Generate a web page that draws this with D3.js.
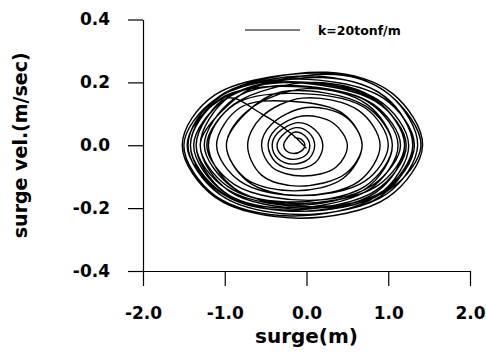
<!DOCTYPE html>
<html>
<head>
<meta charset="utf-8">
<script src="https://cdn.jsdelivr.net/npm/d3@7"></script>
<style>
  body { margin: 0; background: #fff; }
  text { font-family: "DejaVu Sans", sans-serif; font-weight: bold; fill: #000; }
</style>
</head>
<body>
<div id="chart"></div>
<script>
// tick values
var xTicks = [-2, -1, 0, 1, 2];
var yTicks = [-0.4, -0.2, 0.0, 0.2, 0.4];
var seriesName = 'k=20tonf/m';

// phase trajectory (surge in m, velocity in m/sec)
var surge = [
  -0.15, -0.06, -0.02, -0.06, -0.16, -0.245, -0.28, -0.245,
  -0.14, -0.02, 0.04, -0.01, -0.17, -0.31, -0.36, -0.30,
  -0.13, 0.03, 0.10, 0.03, -0.17, -0.35, -0.42, -0.35,
  -0.10, 0.10, 0.20, 0.11, -0.15, -0.38, -0.47, -0.38,
  -0.05, 0.33, 0.50, 0.36, -0.05, -0.42, -0.55, -0.43,
  0.00, 0.48, 0.68, 0.48, -0.10, -0.55, -0.72, -0.55,
  -0.05, 0.64, 0.90, 0.64, -0.10, -0.72, -0.98, -0.72,
  0.00, 0.74, 1.05, 0.74, -0.15, -0.89, -1.20, -0.89,
  0.10, 0.85, 1.20, 0.85, -0.20, -1.00, -1.35, -1.00,
  0.20, 0.95, 1.30, 0.92, -0.15, -1.07, -1.45, -1.07,
  0.25, 1.05, 1.42, 1.00, -0.10, -1.12, -1.52, -1.12,
  0.30, 1.02, 1.36, 0.98, -0.05, -1.04, -1.42, -1.05,
  0.10, 0.96, 1.30, 0.94, 0.00, -0.95, -1.30, -0.94,
  -0.10, 0.86, 1.20, 0.86, -0.20, -0.90, -1.25, -0.90,
  -0.30, 0.77, 1.12, 0.77, -0.30, -1.03, -1.38, -1.03,
  -0.40, 0.87, 1.25, 0.87, -0.20, -1.12, -1.50, -1.12,
  -0.20, 0.94, 1.32, 0.94, -0.10, -1.04, -1.42, -1.04,
  0.00, 0.82, 1.15, 0.82, 0.10, -0.88, -1.22, -0.88,
  -0.20, 0.71, 1.00, 0.71, -0.10, -0.81, -1.10, -0.81,
  -0.20, 0.45, 0.68, 0.45, -0.15, -0.75, -0.98, -0.75,
  -0.30, 0.72, 1.05, 0.72, -0.25, -0.97, -1.30, -0.97,
  -0.50, 0.84, 1.22, 0.84, -0.35, -1.08, -1.46, -1.08,
  0.35, 1.02, 1.40, 1.02, 0.10, -0.97, -1.35, -0.97,
  -0.55, -0.20, 0.00
];
var vel = [
  0.025, 0.018, 0.000, -0.018, -0.026, -0.018, 0.000, 0.020,
  0.042, 0.030, 0.000, -0.032, -0.045, -0.030, 0.000, 0.030,
  0.056, 0.040, 0.000, -0.043, -0.060, -0.042, 0.000, 0.040,
  0.072, 0.050, 0.000, -0.055, -0.076, -0.053, 0.000, 0.050,
  0.093, 0.070, 0.000, -0.070, -0.098, -0.070, 0.000, 0.066,
  0.120, 0.090, 0.000, -0.090, -0.130, -0.095, 0.000, 0.090,
  0.150, 0.110, 0.000, -0.115, -0.160, -0.115, 0.000, 0.110,
  0.180, 0.130, 0.000, -0.135, -0.190, -0.135, 0.000, 0.130,
  0.200, 0.145, 0.000, -0.150, -0.210, -0.150, 0.000, 0.145,
  0.215, 0.155, 0.000, -0.160, -0.220, -0.155, 0.000, 0.155,
  0.232, 0.165, 0.000, -0.165, -0.232, -0.165, 0.000, 0.160,
  0.228, 0.160, 0.000, -0.155, -0.220, -0.160, 0.000, 0.155,
  0.220, 0.155, 0.000, -0.145, -0.200, -0.145, 0.000, 0.155,
  0.200, 0.140, 0.000, -0.130, -0.185, -0.135, 0.000, 0.145,
  0.190, 0.135, 0.000, -0.140, -0.200, -0.145, 0.000, 0.140,
  0.200, 0.145, 0.000, -0.160, -0.225, -0.160, 0.000, 0.145,
  0.210, 0.150, 0.000, -0.150, -0.210, -0.150, 0.000, 0.150,
  0.185, 0.130, 0.000, -0.125, -0.175, -0.125, 0.000, 0.130,
  0.165, 0.120, 0.000, -0.115, -0.160, -0.115, 0.000, 0.120,
  0.140, 0.100, 0.000, -0.105, -0.145, -0.105, 0.000, 0.100,
  0.170, 0.125, 0.000, -0.130, -0.180, -0.130, 0.000, 0.125,
  0.195, 0.140, 0.000, -0.145, -0.205, -0.145, 0.000, 0.140,
  0.225, 0.160, 0.000, -0.140, -0.195, -0.140, 0.000, 0.150,
  0.100, 0.040, -0.010
];

var width = 486, height = 353;

// axes cross at (-2.0, -0.4), no frame
var x = d3.scaleLinear().domain([-2, 2]).range([143, 470]);
var y = d3.scaleLinear().domain([-0.4, 0.4]).range([271, 19.5]);

var svg = d3.select('#chart').append('svg')
    .attr('width', width)
    .attr('height', height);

var fmt = function(d) { return d.toFixed(1); };

// x axis
var gx = svg.append('g')
    .attr('transform', 'translate(0,' + y(-0.4) + ')')
    .call(d3.axisBottom(x)
      .tickValues(xTicks)
      .tickFormat(fmt)
      .tickSizeInner(15)
      .tickSizeOuter(0)
      .tickPadding(21));

// y axis
var gy = svg.append('g')
    .attr('transform', 'translate(' + x(-2) + ',0)')
    .call(d3.axisLeft(y)
      .tickValues(yTicks)
      .tickFormat(fmt)
      .tickSizeInner(15)
      .tickSizeOuter(0)
      .tickPadding(18));

svg.selectAll('.domain, .tick line')
    .attr('stroke', '#000')
    .attr('stroke-width', 1.2);
svg.selectAll('.tick text')
    .attr('font-family', '"DejaVu Sans", sans-serif')
    .attr('font-weight', 'bold')
    .attr('font-size', 17)
    .attr('fill', '#000');

// axis titles
svg.append('text')
    .attr('x', x(0))
    .attr('y', 343)
    .attr('text-anchor', 'middle')
    .attr('font-size', 20)
    .text('surge(m)');

svg.append('text')
    .attr('transform', 'rotate(-90)')
    .attr('x', -y(0))
    .attr('y', 27)
    .attr('text-anchor', 'middle')
    .attr('font-size', 19)
    .text('surge vel.(m/sec)');

// trajectory
var pts = surge.map(function(s, i) { return [s, vel[i]]; });

var line = d3.line()
    .x(function(d) { return x(d[0]); })
    .y(function(d) { return y(d[1]); })
    .curve(d3.curveCatmullRom.alpha(0.5));

svg.append('path')
    .datum(pts)
    .attr('fill', 'none')
    .attr('stroke', '#000')
    .attr('stroke-width', 1.4)
    .attr('d', line);

// legend
svg.append('line')
    .attr('x1', 245).attr('x2', 300)
    .attr('y1', 30).attr('y2', 30)
    .attr('stroke', '#000')
    .attr('stroke-width', 1.2);

svg.append('text')
    .attr('x', 318)
    .attr('y', 34.5)
    .attr('font-size', 12.5)
    .text(seriesName);
</script>
</body>
</html>
